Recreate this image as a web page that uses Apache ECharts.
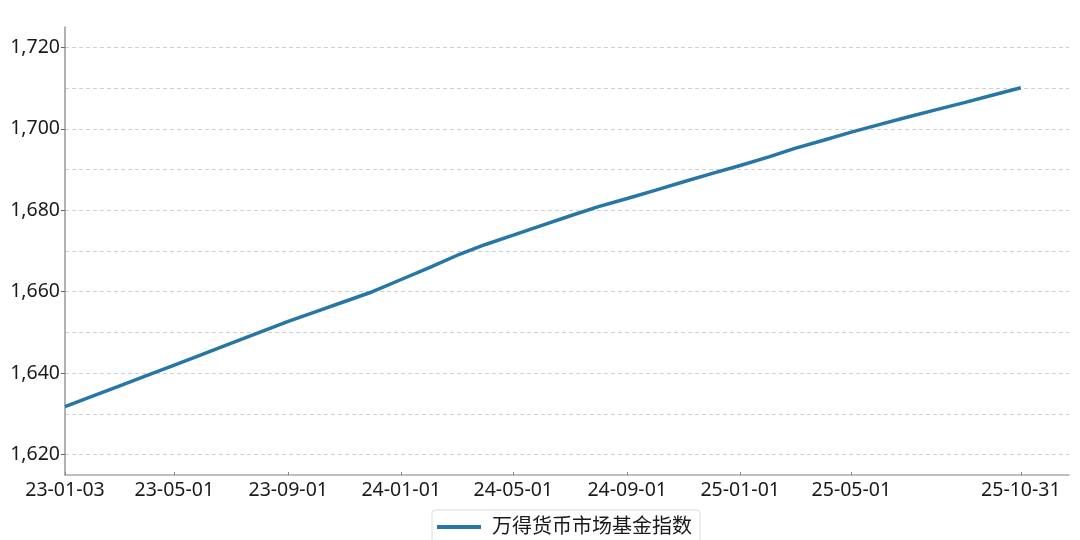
<!DOCTYPE html>
<html>
<head>
<meta charset="utf-8">
<script src="https://cdn.jsdelivr.net/npm/echarts@6/dist/echarts.min.js"></script>
<style>html,body{margin:0;padding:0;background:#fff}#c{width:1080px;height:540px}</style>
</head>
<body>
<div id="c"></div>
<script>
const seriesName = '万得货币市场基金指数';
const dates = ['2023-01-03','2023-02-01','2023-03-01','2023-04-01','2023-05-01','2023-06-01','2023-07-01','2023-08-01','2023-09-01','2023-10-01','2023-11-01','2023-12-01','2024-01-01','2024-02-01','2024-03-01','2024-04-01','2024-05-01','2024-06-01','2024-07-01','2024-08-01','2024-09-01','2024-10-01','2024-11-01','2024-12-01','2025-01-01','2025-02-01','2025-03-01','2025-04-01','2025-05-01','2025-06-01','2025-07-01','2025-08-01','2025-09-01','2025-10-01','2025-10-31'];
const values = [1631.8,1634.3,1636.7,1639.4,1642.0,1644.7,1647.3,1650.0,1652.7,1655.1,1657.6,1660.0,1663.0,1666.0,1668.9,1671.6,1673.9,1676.3,1678.6,1680.9,1682.9,1684.9,1687.0,1689.0,1691.0,1693.1,1695.2,1697.2,1699.2,1701.1,1702.9,1704.7,1706.5,1708.3,1710.1];
const xTickDates = ['2023-01-03','2023-05-01','2023-09-01','2024-01-01','2024-05-01','2024-09-01','2025-01-01','2025-05-01','2025-10-31'];
const yLabelValues = [1620,1640,1660,1680,1700,1720];
const yGridValues = [1620,1630,1640,1650,1660,1670,1680,1690,1700,1710,1720];

const ts = s => { const p = s.split('-'); return Date.UTC(+p[0], +p[1]-1, +p[2]); };
const fmtDate = v => { const d = new Date(v); const y = String(d.getUTCFullYear()).slice(2); const m = String(d.getUTCMonth()+1).padStart(2,'0'); const dd = String(d.getUTCDate()).padStart(2,'0'); return y+'-'+m+'-'+dd; };
const font = "'Noto Sans', 'Noto Sans CJK SC', sans-serif";
const chart = echarts.init(document.getElementById('c'), null, {renderer:'canvas'});
const yMin = 1615, yMax = 1725;
chart.setOption({
  animation:false,
  textStyle:{fontFamily:font},
  grid:{left:65, right:11, top:27, bottom:65, containLabel:false},
  legend:{
    show:true, left:432, top:510, padding:[7,8,6,5],
    borderColor:'#dcdcdc', borderWidth:1, borderRadius:3,
    itemWidth:44, itemHeight:4, itemGap:10,
    textStyle:{fontSize:20, color:'#1a1a1a', fontFamily:font, padding:[0,0,0,6]},
    data:[{name:seriesName, icon:'rect'}]
  },
  xAxis:{
    type:'value', min:ts(dates[0]), max:ts('2025-12-22'),
    axisLine:{show:true, onZero:false, lineStyle:{color:'#aaaaaa', width:1.5}},
    axisTick:{show:true, inside:true, length:3, lineStyle:{color:'#888'}, customValues:xTickDates.map(ts)},
    axisLabel:{show:true, fontSize:19.5, color:'#1a1a1a', margin:6, fontFamily:font, formatter:v=>fmtDate(v), customValues:xTickDates.map(ts), hideOverlap:false, showMinLabel:true, showMaxLabel:true},
    splitLine:{show:false}
  },
  yAxis:[{
    type:'value', min:yMin, max:yMax,
    axisLine:{show:true, lineStyle:{color:'#999999', width:1.5}},
    axisTick:{show:true, length:4, lineStyle:{color:'#666'}, customValues:yLabelValues},
    axisLabel:{show:true, fontSize:19.5, color:'#1a1a1a', margin:5, fontFamily:font, customValues:yLabelValues, formatter:v=>v.toLocaleString('en-US')},
    splitLine:{show:false}
  },{
    type:'value', min:yMin, max:yMax, position:'left',
    axisLine:{show:false}, axisLabel:{show:false},
    axisTick:{show:false, customValues:yGridValues},
    splitLine:{show:true, lineStyle:{color:'#cfcfcf', type:[4,3], width:1}}
  }],
  series:[{
    name:seriesName, type:'line', yAxisIndex:0, showSymbol:false, symbol:'none',
    data:dates.map((d,i)=>[ts(d), values[i]]),
    lineStyle:{color:'#2677a6', width:3.5},
    itemStyle:{color:'#2677a6'}
  }]
});
</script>
</body>
</html>
